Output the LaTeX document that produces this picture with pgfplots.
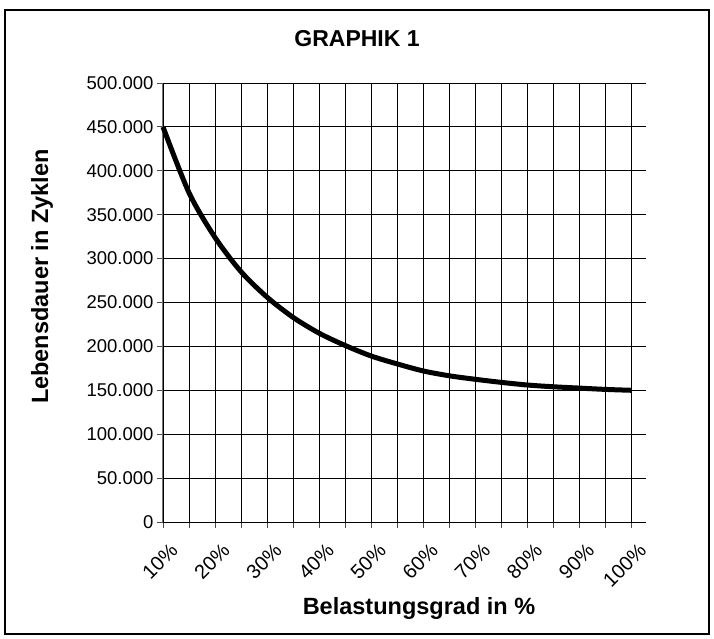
\documentclass[border=0pt]{standalone}
\usepackage{fontspec}
\setmainfont{Liberation Sans}
\usepackage{pgfplots}
\pgfplotsset{compat=1.18}
\begin{document}
\begin{tikzpicture}
\path[use as bounding box] (-163pt,-117pt) rectangle (551pt,522pt);
\draw[line width=2pt] (-158pt,-112pt) rectangle (546pt,512pt);
\begin{axis}[
  at={(0pt,0pt)}, anchor=south west,
  scale only axis, width=483pt, height=439pt,
  xmin=10, xmax=102.75, ymin=0, ymax=500000,
  axis x line=bottom, axis y line=left,
  axis line style={-},
  x axis line style={black, line width=1pt},
  y axis line style={black!55, line width=1pt},
  xtick={10,20,...,100}, minor xtick={15,25,...,95},
  xticklabels={10\%,20\%,30\%,40\%,50\%,60\%,70\%,80\%,90\%,100\%},
  ytick={0,50000,100000,150000,200000,250000,300000,350000,400000,450000,500000},
  yticklabels={0,50.000,100.000,150.000,200.000,250.000,300.000,350.000,400.000,450.000,500.000},
  scaled y ticks=false,
  tick align=outside, major tick length=6pt, minor tick length=6pt,
  tick style={black!70, line width=0.8pt},
  grid=both,
  major grid style={black, line width=0.9pt},
  minor grid style={black, line width=0.9pt},
  yticklabel style={font=\fontsize{18.5}{21}\selectfont},
  xticklabel style={font=\fontsize{20}{23}\selectfont, xshift=6pt, yshift=-9pt, rotate=45, anchor=north east},
  title={GRAPHIK 1},
  title style={font=\bfseries\fontsize{23}{27}\selectfont, at={(axis description cs:0.4017,1.087)}, anchor=center},
  xlabel={Belastungsgrad in \%},
  xlabel style={font=\bfseries\fontsize{23.5}{27}\selectfont, at={(axis description cs:0.530,-0.197)}, anchor=center},
  ylabel={Lebensdauer in Zyklen},
  ylabel style={font=\bfseries\fontsize{23.5}{27}\selectfont, at={(axis description cs:-0.2505,0.559)}, anchor=center},
  clip=false,
]
\addplot[black, line width=5pt, smooth, mark=none] coordinates {
 (10,450000) (15,375000) (20,324000) (25,285000) (30,256000) (35,233000)
 (40,215000) (45,201000) (50,189000) (55,180000) (60,172000) (65,166500)
 (70,162500) (75,159000) (80,156000) (85,154000) (90,152500) (95,151000)
 (100,150000)
};
\end{axis}
\end{tikzpicture}
\end{document}
